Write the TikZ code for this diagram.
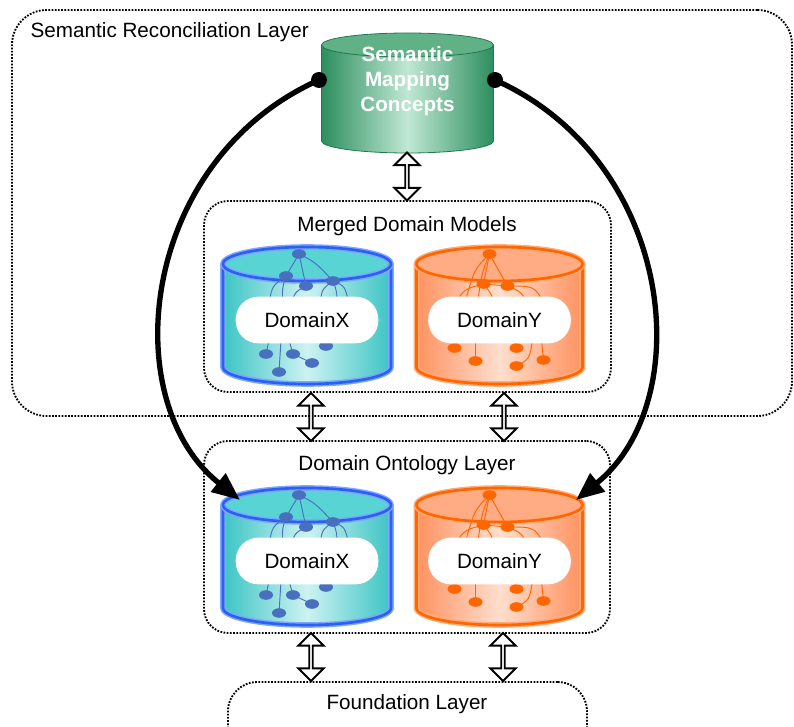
\documentclass[tikz,border=0pt]{standalone}
\usepackage{fontspec}
\setmainfont{Liberation Sans}
\usetikzlibrary{arrows.meta,shapes.arrows,fit}

\definecolor{tealedge}{RGB}{60,196,196}
\definecolor{tealmid}{RGB}{205,242,242}
\definecolor{tealtop}{RGB}{88,212,212}
\definecolor{blueline}{RGB}{40,98,245}
\definecolor{blueglow}{RGB}{130,165,255}
\definecolor{bluedot}{RGB}{72,112,190}
\definecolor{orgedge}{RGB}{255,146,96}
\definecolor{orgmid}{RGB}{255,222,205}
\definecolor{orgtop}{RGB}{255,172,132}
\definecolor{orgline}{RGB}{255,102,0}
\definecolor{orgglow}{RGB}{255,170,120}
\definecolor{grnedge}{RGB}{44,142,94}
\definecolor{grnmid}{RGB}{192,232,212}
\definecolor{grntop}{RGB}{96,178,134}
\definecolor{grnline}{RGB}{34,120,78}

\begin{document}
\begin{tikzpicture}[x=0.75pt, y=-0.75pt,
		every node/.style = {font=\fontsize{15.5}{18.75}\selectfont},
		layer/.style = {
			draw, rounded corners=18pt,
			line width=1.4pt,
			dash pattern=on 1.3pt off 1.1pt,
			inner sep=0pt
			},
		tag/.style = {fill=white, rounded corners=17pt,
			minimum width=107pt, minimum height=35pt, inner sep=0pt},
		updown/.style = {
			draw, fill=white, line width=1.4pt,
			double arrow, rotate=90,
			minimum height=36pt, minimum width=19pt,
			double arrow head extend=4.5pt,
			inner sep=0pt
			},
		dot/.style = {circle, fill=black, minimum size=12pt, inner sep=0pt},
		link/.style = {line width=4pt, -{Triangle[length=21pt,width=17pt]}}
	]
	\clip (0,0) rectangle (794,727);

	% layers
	\node [layer, rounded corners=26pt, fit={(12,10) (792,416)}] (recon) {};
	\node [layer, fit={(204,201) (611,392)}] (merged) {};
	\node [layer, fit={(204,441) (610,633)}] (onto) {};
	\node [layer, rounded corners=22pt, fit={(228,682) (587,770)}] (found) {};

	\node [anchor=base west] (reconlbl) at (26,38) {Semantic Reconciliation Layer};
	\node [anchor=base] (mergedlbl) at (407,232) {Merged Domain Models};
	\node [anchor=base] (ontolbl) at (407,471) {Domain Ontology Layer};
	\node [anchor=base] (foundlbl) at (407,710) {Foundation Layer};

	% mapping concepts store
	\path [left color=grnedge, right color=grnedge, middle color=grnmid]
		(321.5,45) -- (321.5,141) arc[start angle=180, end angle=0, x radius=86, y radius=12] -- (493.5,45) -- cycle;
	\draw [grnline, line width=0.6pt]
		(321.5,45) -- (321.5,141) arc[start angle=180, end angle=0, x radius=86, y radius=12] -- (493.5,45);
	\draw [grnline, line width=0.6pt, fill=grntop] (407.5,45) ellipse [x radius=86, y radius=12];
	\node [text=white, font=\fontsize{15.5}{18.75}\selectfont\bfseries, align=center] (smc) at (407.5,81.5)
		{Semantic\\Mapping\\Concepts};

	% both rows of domain stores
	\foreach \ty/\row in {264/m,505/o} {
		% DomainX
		\begin{scope}[shift={(307,\ty)}]
			\path [left color=tealedge, right color=tealedge, middle color=tealmid]
				(-84,0) -- (-84,103) arc[start angle=180, end angle=0, x radius=84, y radius=17] -- (84,0) -- cycle;
			\draw [blueglow, line width=4.2pt]
				(-84,0) -- (-84,103) arc[start angle=180, end angle=0, x radius=84, y radius=17] -- (84,0);
			\draw [blueline, line width=2pt]
				(-84,0) -- (-84,103) arc[start angle=180, end angle=0, x radius=84, y radius=17] -- (84,0);
			\draw [blueglow, line width=4.2pt, fill=tealtop] (0,0) ellipse [x radius=84, y radius=17];
			\draw [blueline, line width=2pt] (0,0) ellipse [x radius=84, y radius=17];
			\begin{scope}[bluedot, line width=0.7pt]
				\draw (-8,-10) -- (-21,12);
				\draw (-8,-10) -- (-1,22);
				\draw (-8,-10) .. controls (8,-2) .. (26,17);
				\draw (-21,12) .. controls (-35,22) .. (-38,40);
				\draw (-21,12) .. controls (-25,25) .. (-24,40);
				\draw (-1,22) .. controls (-12,28) .. (-16,40);
				\draw (26,17) .. controls (15,25) .. (13,40);
				\draw (26,17) .. controls (38,22) .. (42,40);
				\draw (26,17) .. controls (30,28) .. (30,40);
				\draw (-41,90) -- (-38,76);
				\draw (-14,90) -- (-18,76);
				\draw (-14,90) -- (5,99);
				\draw (-28,108) -- (-26,76);
				\draw (19,82) -- (20,76);
				\foreach \p in {(-8,-10),(-21,12),(-1,22),(26,17),(-41,90),(-14,90),(5,99),(-28,108),(19,82)}
					\fill \p ellipse [x radius=7, y radius=4.8];
			\end{scope}
			\node [tag] (x\row) at (0,56) {DomainX};
		\end{scope}
		% DomainY
		\begin{scope}[shift={(499.5,\ty)}]
			\path [left color=orgedge, right color=orgedge, middle color=orgmid]
				(-83,0) -- (-83,103) arc[start angle=180, end angle=0, x radius=83, y radius=17] -- (83,0) -- cycle;
			\draw [orgglow, line width=4.2pt]
				(-83,0) -- (-83,103) arc[start angle=180, end angle=0, x radius=83, y radius=17] -- (83,0);
			\draw [orgline, line width=2pt]
				(-83,0) -- (-83,103) arc[start angle=180, end angle=0, x radius=83, y radius=17] -- (83,0);
			\draw [orgglow, line width=4.2pt, fill=orgtop] (0,0) ellipse [x radius=83, y radius=17];
			\draw [orgline, line width=2pt] (0,0) ellipse [x radius=83, y radius=17];
			\begin{scope}[orgline, line width=0.7pt]
				\draw (-10,-10) -- (-16,20);
				\draw (-10,-10) -- (8,22);
				\draw (-10,-10) .. controls (-25,5) .. (-35,40);
				\draw (-10,-10) .. controls (-18,10) .. (-22,40);
				\draw (-16,20) -- (8,22);
				\draw (-16,20) .. controls (-35,25) .. (-45,40);
				\draw (-16,20) .. controls (-8,30) .. (-5,40);
				\draw (8,22) .. controls (35,22) .. (45,40);
				\draw (8,22) .. controls (22,28) .. (28,40);
				\draw (-24,97) -- (-24,76);
				\draw (17,102) .. controls (30,95) .. (33,76);
				\draw (44,96) -- (42,76);
				\draw (17,84) -- (14,76);
				\draw (-45,84) -- (-42,76);
				\foreach \p in {(-10,-10),(-16,20),(8,22),(-45,84),(-24,97),(17,84),(17,102),(44,96)}
					\fill \p ellipse [x radius=7, y radius=4.8];
			\end{scope}
			\node [tag] (y\row) at (0,56) {DomainY};
		\end{scope}
	}

	% exchange between layers
	\node [updown] (a0) at (407,176.5) {};
	\node [updown] (a1) at (311,417) {};
	\node [updown] (a2) at (504,417) {};
	\node [updown] (a3) at (311,657) {};
	\node [updown] (a4) at (503,657) {};

	% mapping links down to the ontologies
	\node [dot] (srcl) at (319,80) {};
	\node [dot] (srcr) at (495,80) {};
	\coordinate (xin) at (240,500);
	\coordinate (yin) at (576,500);
	\draw [link] (srcl.center) .. controls (140,160) and (115,400) .. (xin);
	\draw [link] (srcr.center) .. controls (674,160) and (699,400) .. (yin);

\end{tikzpicture}
\end{document}
